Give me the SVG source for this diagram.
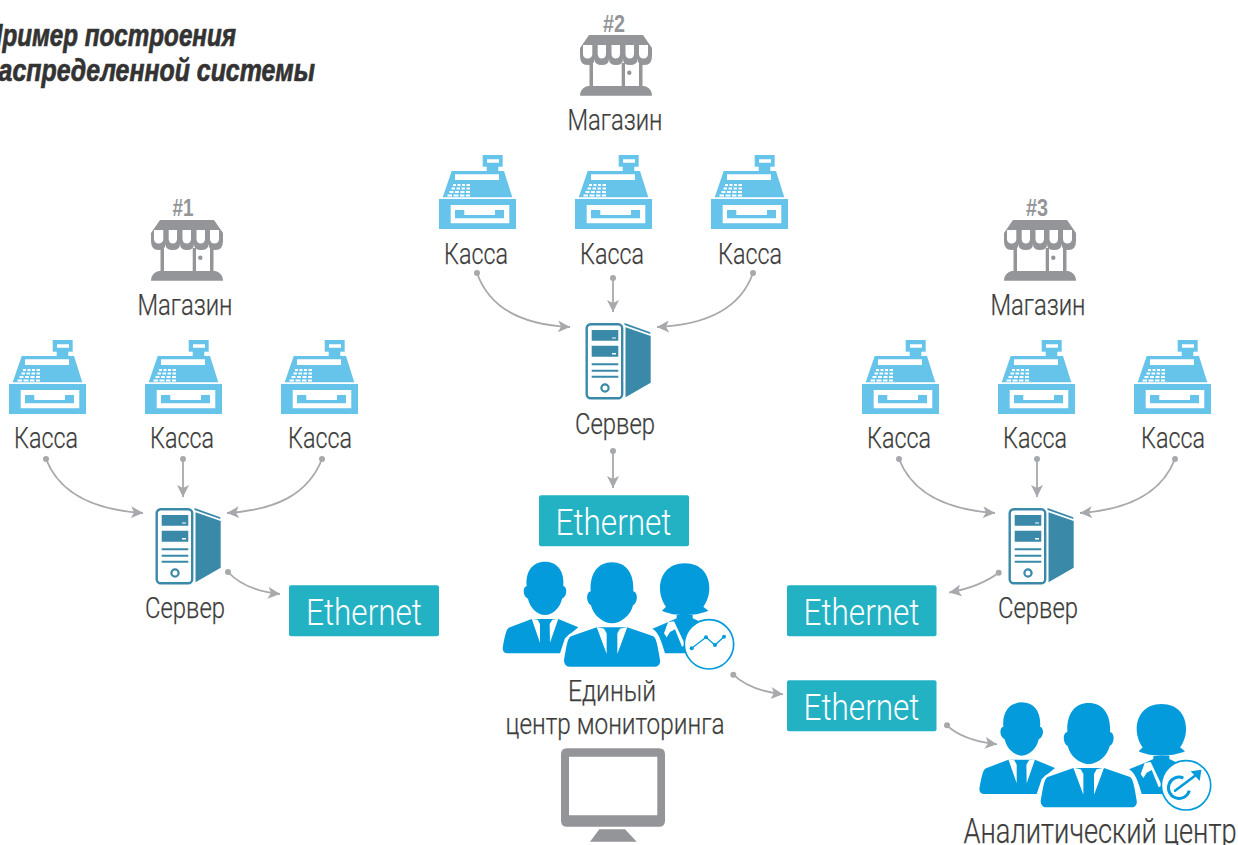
<svg xmlns="http://www.w3.org/2000/svg" width="1238" height="845" viewBox="0 0 1238 845">
<style>
text{font-family:Roboto,"Liberation Sans",Arial,sans-serif;fill:#3c3c3b;text-anchor:middle}
.lb{font-size:29px;font-weight:300;stroke:#3c3c3b;stroke-width:.25;transform:translateY(1px)}
.eth{font-size:36px;font-weight:300;fill:#fff;transform:translateY(1px)}
.num{font-family:"Liberation Sans",Arial,sans-serif;font-size:23px;font-weight:bold;fill:#939598}
.ttl{font-family:"Liberation Sans",Arial,sans-serif;font-size:31px;font-weight:bold;font-style:italic;fill:#333;stroke:#333;stroke-width:.7;text-anchor:start}
.c{fill:none;stroke:#a7a9ac;stroke-width:1.8;marker-end:url(#ah)}
.d{fill:#a7a9ac}
.box{fill:#22b2c4}
.reg{fill:#66c3ea}
.w{fill:#fff}
.gr{fill:#939598}
.sv{fill:#3a89a9}
.pp{fill:#039bdc}
</style>
<defs>
<marker id="ah" markerWidth="13" markerHeight="12" refX="12" refY="6" orient="auto" markerUnits="userSpaceOnUse"><path d="M0 0L12 6L0 12L3 6Z" fill="#a7a9ac"/></marker>
<symbol id="register" overflow="visible">
<path class="reg" d="M0 44H77V74H0Z"/>
<path class="w" d="M11.7 50H70.3V68.3H11.7Z"/>
<path class="reg" d="M16 55H25.3V60H56V55H65V63.3H16Z"/>
<path class="reg" d="M12.7 16H65L73.3 42.3H3.7Z"/>
<path class="reg" d="M47.7 11H59.3V17H47.7Z"/>
<path class="reg" d="M43.7 0H63.7V11.7H43.7Z"/>
<path class="w" d="M48 4.3H60V7.7H48ZM16 19.3H60V25H16Z"/>
<path class="w" d="M14 29h3v2h-3zM18.500 29h3v2h-3zM23 29h3v2h-3zM27.500 29h3.500v2h-3.500zM12.500 32.500h3.500v2h-3.500zM17.500 32.500h3.500v2h-3.500zM22.500 32.500h3.500v2h-3.500zM27.500 32.500h3.500v2h-3.500zM10.500 36h4v2h-4zM16 36h4v2h-4zM21.500 36h4v2h-4zM27 36h4v2h-4zM8.500 39.500h4.500v2h-4.500zM14.500 39.500h5v2h-5zM21 39.500h4.500v2h-4.500zM27 39.500h4v2h-4z"/>
</symbol>
<symbol id="store" overflow="visible">
<path class="gr" d="M9 0H63L72 13V21Q72 30 64.500 30Q57.500 30 57.500 24Q57.500 30 50 30Q43 30 43 24Q43 30 36 30Q29 30 29 24Q29 30 21.700 30Q14.500 30 14.500 24Q14.500 30 7.500 30Q0 30 0 21V13Z"/>
<path class="w" d="M3 10H12.300V19C12.300 25 3 25 3 19ZM17.700 10H26V19C26 25 17.700 25 17.700 19ZM31.500 10H40V19C40 25 31.500 25 31.500 19ZM45.500 10H54V19C54 25 45.500 25 45.500 19ZM59 10H68V19C68 25 59 25 59 19Z"/>
<path class="gr" d="M9.500 28H13V52H9.500ZM41.700 28H45V52H41.700ZM59 28H62.500V52H59Z"/>
<path class="gr" d="M8 51H64C69 52 72 56 72 60.700H0C0 56 3 52 8 51Z"/>
<circle class="gr" cx="49.300" cy="37.700" r="2.200"/>
</symbol>
<symbol id="server" overflow="visible">
<rect x="1.700" y="1.300" width="35.500" height="74" rx="4" fill="#fff" stroke="#3a89a9" stroke-width="2.400"/>
<path class="sv" d="M6.700 7H33.300V17.700H6.700ZM6.700 22.700H33.300V33.700H6.700ZM6.700 40.300H33.300V42.300H6.700ZM6.700 46.700H33.300V48.700H6.700ZM6.700 52.700H33.300V54.700H6.700Z"/>
<path class="w" d="M27 14.500H31V15.500H27ZM27 30H31V31.500H27Z"/>
<circle cx="20" cy="65" r="3.600" fill="none" stroke="#3a89a9" stroke-width="2.200"/>
<path class="sv" d="M40.500 4.300L65.700 13V59.700L40.500 74.300Z"/>
<path class="sv" d="M39.500 0L65.300 9.300V11L39.500 2Z"/>
</symbol>
<symbol id="people" overflow="visible">
<path class="pp" d="M125 207L60 232C50 236 47 245 38 295C38 305 44 310 52 310H210L225 265L265 232L205 207Z"/>
<path class="w" d="M125 206L143 209L150 222L150 278ZM205 206L187 209L179 222L180 278Z"/>
<path class="pp" d="M165 35C203 35 224 65 220 108C232 110 233 138 216 146C211 172 188 195 165 195C142 195 119 172 114 146C97 138 98 110 110 108C106 65 127 35 165 35Z"/>
<path class="pp" d="M535 216L487 236C505 245 515 275 525 310H600L640 220L608 205V195H560V205Z"/>
<path class="w" d="M534 217L552 214L586 285L576 290L555 238L540 246L530 262L522 250Z"/>
<path class="pp" d="M584 40C635 40 658 75 658 115C658 140 648 160 640 170L655 182C630 192 610 195 584 195C558 195 538 192 516 182L528 170C520 160 510 140 510 115C510 75 535 40 584 40Z"/>
<path class="pp" stroke="#fff" stroke-width="16" paint-order="stroke" d="M320 232L245 258C235 262 232 270 222 330C222 342 228 350 238 350H495C505 350 512 342 510 330C500 270 497 262 488 258L412 232Z"/>
<path class="w" d="M320 231L342 236L350 250L350 312ZM412 231L390 236L382 250L382 312Z"/>
<path class="pp" d="M366 37C408 37 433 70 430 124C444 126 445 158 429 166C422 197 392 220 366 220C340 220 310 197 303 166C287 158 288 126 302 124C299 70 324 37 366 37Z"/>
</symbol>
<symbol id="badgeA" overflow="visible">
<circle cx="657" cy="283" r="74" fill="#fff" stroke="#039bdc" stroke-width="5"/>
<path d="M605 295L648 262L675 285L702 260" fill="none" stroke="#039bdc" stroke-width="4"/>
<g class="pp"><circle cx="605" cy="295" r="6"/><circle cx="648" cy="262" r="6"/><circle cx="675" cy="285" r="6"/><circle cx="702" cy="260" r="6"/></g>
</symbol>
<symbol id="badgeB" overflow="visible">
<circle cx="658" cy="284" r="74" fill="#fff" stroke="#039bdc" stroke-width="5"/>
<path d="M650 262A32 32 0 1 0 668 300" fill="none" stroke="#039bdc" stroke-width="9"/>
<path d="M646 284L684 256" fill="none" stroke="#fff" stroke-width="18"/>
<path d="M625 300L684 256" fill="none" stroke="#039bdc" stroke-width="8" stroke-linecap="round"/>
<path class="pp" d="M672 242L704 237L699 271Z"/>
</symbol>
</defs>

<g id="title">
<text class="ttl" x="-15" y="46" textLength="251" lengthAdjust="spacingAndGlyphs">Пример построения</text>
<text class="ttl" x="-18" y="81" textLength="333" lengthAdjust="spacingAndGlyphs">Распределенной системы</text>
</g>

<g id="connectors">
<path class="c" d="M477 273C490 310 525 325 570 327"/><path class="c" d="M613 278V312"/><path class="c" d="M753 273C740 310 705 325 657 327"/>
<path class="c" d="M613 451V488"/>
<path class="c" d="M46 459C60 495 95 510 143 513"/><path class="c" d="M183 459V497"/><path class="c" d="M322 459C308 495 275 510 227 513"/>
<path class="c" d="M228 572C240 585 260 592 280 594"/>
<path class="c" d="M899 459C913 495 950 510 995 513"/><path class="c" d="M1037 459V497"/><path class="c" d="M1175 459C1161 495 1125 510 1080 513"/>
<path class="c" d="M998.700 572.700C985 583 968 589 949.300 592.500"/>
<path class="c" d="M733.300 674.700C745 686 762 692 783 694.300"/>
<path class="c" d="M947 725.300C958 736 978 742 997 744.300"/>
<g class="d">
<circle cx="477" cy="273" r="3"/><circle cx="613" cy="278" r="3"/><circle cx="753" cy="273" r="3"/><circle cx="613" cy="451" r="3"/>
<circle cx="46" cy="459" r="3"/><circle cx="183" cy="459" r="3"/><circle cx="322" cy="459" r="3"/><circle cx="228" cy="572" r="3"/>
<circle cx="899" cy="459" r="3"/><circle cx="1037" cy="459" r="3"/><circle cx="1175" cy="459" r="3"/><circle cx="998.700" cy="572.700" r="3"/>
<circle cx="733.300" cy="674.700" r="3"/><circle cx="947" cy="725.300" r="3"/>
</g>
</g>

<g id="store-1"><use href="#store" x="151" y="220"/><text class="num" x="183" y="216" textLength="21" lengthAdjust="spacingAndGlyphs">#1</text><text class="lb" x="185" y="314" textLength="95" lengthAdjust="spacingAndGlyphs">Магазин</text></g>
<g id="store-2"><use href="#store" x="580" y="35"/><text class="num" x="614" y="32" textLength="22" lengthAdjust="spacingAndGlyphs">#2</text><text class="lb" x="615" y="129" textLength="95" lengthAdjust="spacingAndGlyphs">Магазин</text></g>
<g id="store-3"><use href="#store" x="1004" y="220"/><text class="num" x="1037" y="216" textLength="22" lengthAdjust="spacingAndGlyphs">#3</text><text class="lb" x="1038" y="314" textLength="95" lengthAdjust="spacingAndGlyphs">Магазин</text></g>

<g id="kassa-1-1"><use href="#register" x="9" y="340"/><text class="lb" x="46" y="447" textLength="64" lengthAdjust="spacingAndGlyphs">Касса</text></g>
<g id="kassa-1-2"><use href="#register" x="145" y="340"/><text class="lb" x="182" y="447" textLength="64" lengthAdjust="spacingAndGlyphs">Касса</text></g>
<g id="kassa-1-3"><use href="#register" x="281" y="340"/><text class="lb" x="320" y="447" textLength="64" lengthAdjust="spacingAndGlyphs">Касса</text></g>
<g id="kassa-2-1"><use href="#register" x="439" y="155"/><text class="lb" x="476" y="263" textLength="64" lengthAdjust="spacingAndGlyphs">Касса</text></g>
<g id="kassa-2-2"><use href="#register" x="575" y="155"/><text class="lb" x="612" y="263" textLength="64" lengthAdjust="spacingAndGlyphs">Касса</text></g>
<g id="kassa-2-3"><use href="#register" x="711" y="155"/><text class="lb" x="750" y="263" textLength="64" lengthAdjust="spacingAndGlyphs">Касса</text></g>
<g id="kassa-3-1"><use href="#register" x="862" y="340"/><text class="lb" x="899" y="447" textLength="64" lengthAdjust="spacingAndGlyphs">Касса</text></g>
<g id="kassa-3-2"><use href="#register" x="998" y="340"/><text class="lb" x="1035" y="447" textLength="64" lengthAdjust="spacingAndGlyphs">Касса</text></g>
<g id="kassa-3-3"><use href="#register" x="1134" y="340"/><text class="lb" x="1173" y="447" textLength="64" lengthAdjust="spacingAndGlyphs">Касса</text></g>

<g id="server-1"><use href="#server" x="155" y="508"/><text class="lb" x="185" y="617" textLength="80" lengthAdjust="spacingAndGlyphs">Сервер</text></g>
<g id="server-2"><use href="#server" x="585" y="323"/><text class="lb" x="615" y="433" textLength="80" lengthAdjust="spacingAndGlyphs">Сервер</text></g>
<g id="server-3"><use href="#server" x="1008" y="508"/><text class="lb" x="1038" y="617" textLength="80" lengthAdjust="spacingAndGlyphs">Сервер</text></g>

<g id="ethernet-2"><rect class="box" x="539" y="495.300" width="150" height="51" rx="2"/><text class="eth" x="613.500" y="534" textLength="116" lengthAdjust="spacingAndGlyphs">Ethernet</text></g>
<g id="ethernet-1"><rect class="box" x="289" y="585.300" width="150" height="51" rx="2"/><text class="eth" x="364" y="624" textLength="116" lengthAdjust="spacingAndGlyphs">Ethernet</text></g>
<g id="ethernet-3"><rect class="box" x="787" y="585.300" width="149.500" height="51" rx="2"/><text class="eth" x="861.500" y="624" textLength="116" lengthAdjust="spacingAndGlyphs">Ethernet</text></g>
<g id="ethernet-4"><rect class="box" x="787" y="680.300" width="149.500" height="51" rx="2"/><text class="eth" x="861.500" y="719" textLength="116" lengthAdjust="spacingAndGlyphs">Ethernet</text></g>

<g id="monitoring-center">
<g transform="translate(490 550) scale(.33333)"><use href="#people"/><use href="#badgeA"/></g>
<text class="lb" x="612" y="700" textLength="88" lengthAdjust="spacingAndGlyphs">Единый</text>
<text class="lb" x="615" y="733" textLength="219" lengthAdjust="spacingAndGlyphs">центр мониторинга</text>
</g>

<g id="monitor">
<path class="gr" fill-rule="evenodd" d="M567 748.300H659Q665 748.300 665 754.300V820.700Q665 826.700 659 826.700H567Q561 826.700 561 820.700V754.300Q561 748.300 567 748.300ZM569 756.700V815.300H657.300V756.700Z"/>
<path class="gr" d="M599.300 829.300H625L636.700 841.700H590Z"/>
</g>

<g id="analytics-center">
<g transform="translate(966.700 690.700) scale(.33333)"><use href="#people"/><use href="#badgeB"/></g>
<text class="lb" x="1100" y="843" style="font-size:35px;transform:none" textLength="273" lengthAdjust="spacingAndGlyphs">Аналитический центр</text>
</g>
</svg>
